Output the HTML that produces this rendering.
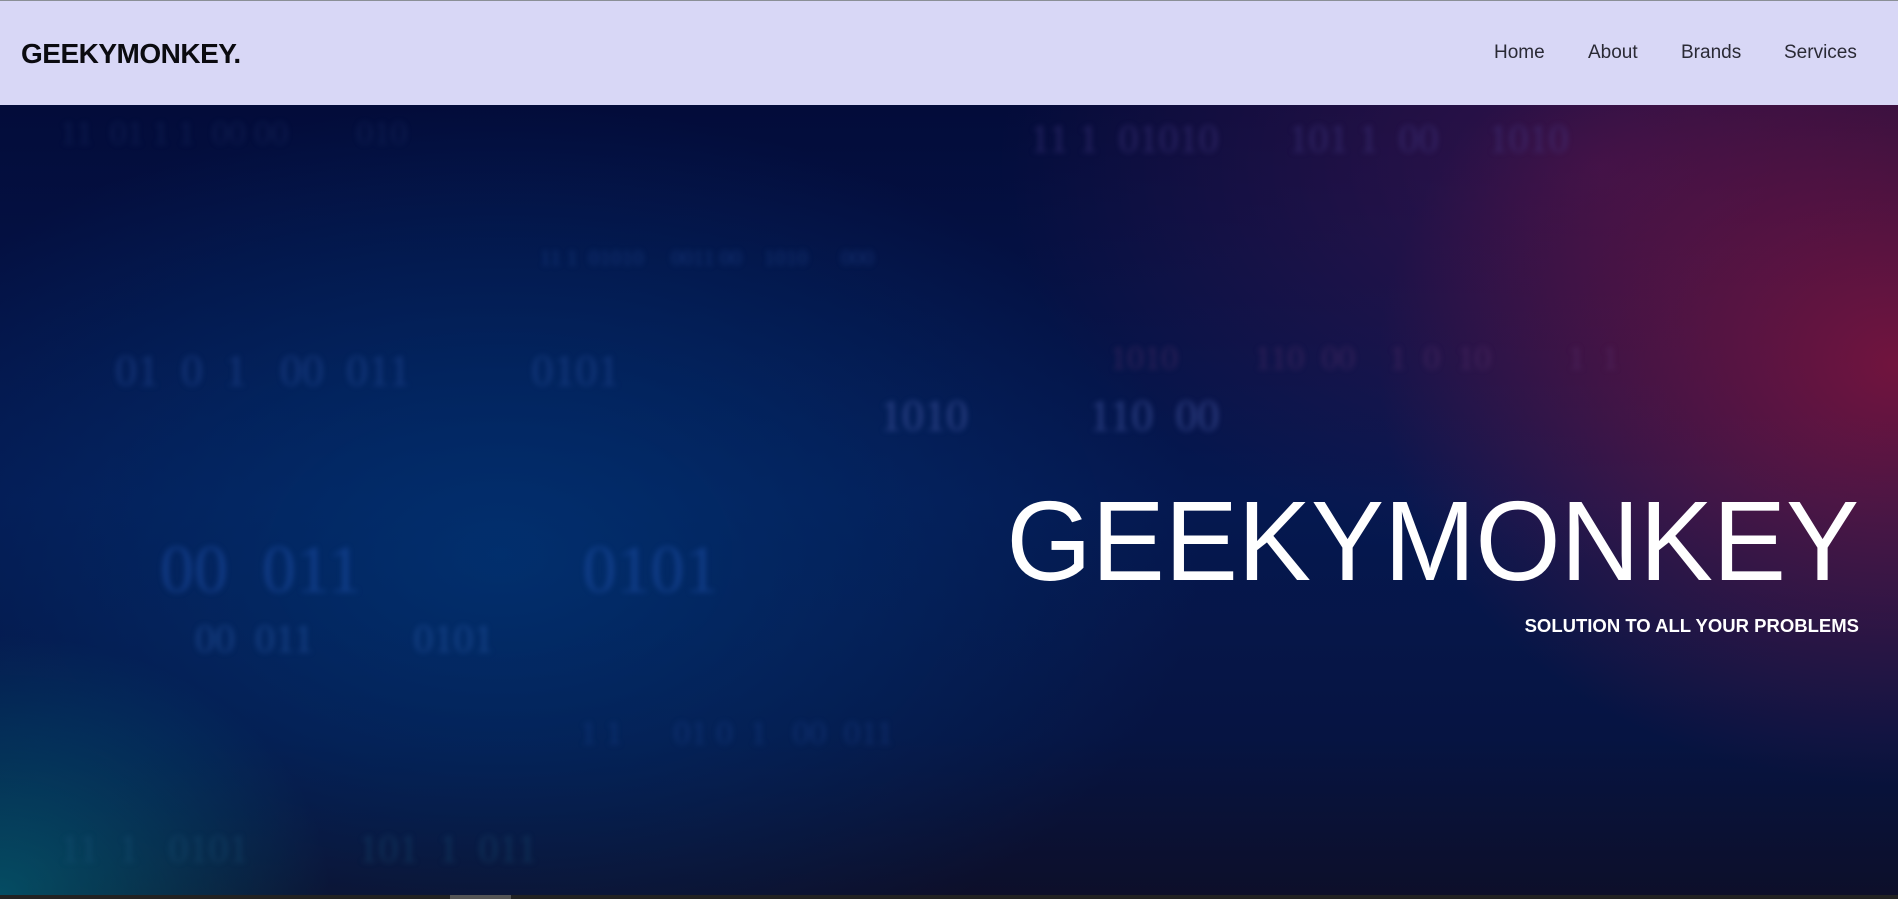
<!DOCTYPE html>
<html><head><meta charset="utf-8"><style>
*{margin:0;padding:0;box-sizing:border-box}
body{width:1898px;height:899px;overflow:hidden;font-family:"Liberation Sans",sans-serif;background:#0a0f2e;position:relative}
#hdr{position:absolute;left:0;top:0;width:1898px;height:105px;background:#d8d7f6;border-top:1px solid #8a8f96}
#logo{position:absolute;left:21px;top:37px;font-size:28px;font-weight:bold;color:#0b0b10;letter-spacing:-0.5px}
.nav{position:absolute;top:41px;font-size:19px;color:#2a2a35}
#hero{position:absolute;left:0;top:105px;width:1898px;height:790px;overflow:hidden;
background:
radial-gradient(ellipse 330px 260px at 0px 790px,rgba(0,110,130,0.65),rgba(0,90,120,0) 100%),
radial-gradient(ellipse 520px 420px at 1898px 260px,rgba(130,20,60,0.85),rgba(90,20,70,0) 100%),
radial-gradient(ellipse 600px 400px at 1600px 60px,rgba(70,20,80,0.7),rgba(70,20,80,0) 100%),
radial-gradient(ellipse 700px 450px at 500px 450px,rgba(0,55,120,0.75),rgba(0,40,100,0) 100%),
linear-gradient(180deg,#030c3a 0%,#051850 50%,#061442 80%,#0d0f2a 100%);}
.bin{position:absolute;font-family:"Liberation Serif",serif;filter:blur(3px);color:rgba(40,80,160,0.45);white-space:pre}
#title{position:absolute;right:39px;top:485px;font-size:113px;color:#fff;line-height:1;transform:scaleX(0.97);transform-origin:right top}
#sub{position:absolute;right:39px;top:615px;font-size:18.5px;font-weight:bold;color:#fff}
#sb{position:absolute;left:0;top:895px;width:1898px;height:4px;background:#222}
#thumb{position:absolute;left:450px;top:895px;width:61px;height:4px;background:#555}
</style></head><body>
<div id="hdr">
<div id="logo">GEEKYMONKEY.</div>
<div class="nav" style="left:1494px">Home</div>
<div class="nav" style="left:1588px">About</div>
<div class="nav" style="left:1681px">Brands</div>
<div class="nav" style="left:1784px">Services</div>
</div>
<div id="hero">
<div class="bin" style="left:60px;top:10px;font-size:34px;color:rgba(40,60,120,0.3)">11  01 1 1  00 00        010</div>
<div class="bin" style="left:1030px;top:10px;font-size:40px;color:rgba(70,60,140,0.45)">11 1  01010       101 1  00     1010</div>
<div class="bin" style="left:540px;top:140px;font-size:22px">11 1  01010     0011 00    1010      000</div>
<div class="bin" style="left:115px;top:240px;font-size:44px">01  0  1   00  011           0101</div>
<div class="bin" style="left:1110px;top:235px;font-size:34px;color:rgba(90,50,110,0.45)">1010         110  00    1  0  10         1  1</div>
<div class="bin" style="left:880px;top:285px;font-size:44px;color:rgba(80,100,180,0.5)">1010           110  00</div>
<div class="bin" style="left:160px;top:425px;font-size:68px;color:rgba(30,80,170,0.5)">00  011             0101</div>
<div class="bin" style="left:195px;top:510px;font-size:40px;color:rgba(40,90,170,0.5)">00  011          0101</div>
<div class="bin" style="left:580px;top:610px;font-size:34px;color:rgba(30,70,150,0.4)">1 1      01 0  1   00  011</div>
<div class="bin" style="left:60px;top:720px;font-size:40px;color:rgba(30,90,130,0.35)">11  1   0101           101  1  011</div>
</div>
<div id="title">GEEKYMONKEY</div>
<div id="sub">SOLUTION TO ALL YOUR PROBLEMS</div>
<div id="sb"></div>
<div id="thumb"></div>
</body></html>
